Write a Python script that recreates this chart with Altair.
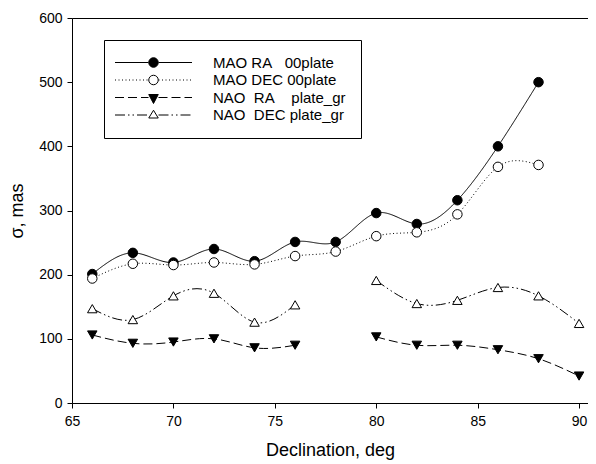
import altair as alt
import pandas as pd

NB = "\u00a0"
# ---- data ----
dec = [66, 68, 70, 72, 74, 76, 78, 80, 82, 84, 86, 88, 90]
mao_ra = [201, 234, 219, 240, 221, 251, 251, 296, 279, 316, 400, 500, None]
mao_dec = [194, 217, 215, 219, 216, 229, 236, 260, 266, 294, 368, 371, None]
nao_ra = [106, 93, 95, 100, 86, 90, None, 103, 90, 90, 83, 69, 42]
nao_dec = [147, 130, 167, 171, 126, 153, None, 191, 155, 160, 180, 167, 124]

series = [
    "MAO" + NB + "RA" + NB * 3 + "00plate",
    "MAO" + NB + "DEC" + NB + "00plate",
    "NAO" + NB * 2 + "RA" + NB * 4 + "plate_gr",
    "NAO" + NB * 2 + "DEC" + NB + "plate_gr",
]
values = [mao_ra, mao_dec, nao_ra, nao_dec]
shapes = ["circle", "circle", "triangle-down", "triangle-up"]
fills = ["black", "white", "black", "white"]
dash_patterns = [[1, 0], [1, 2.5], [9, 4], [10, 3, 1.5, 3, 1.5, 3]]

rows = []
for s, vals, shp, fc in zip(series, values, shapes, fills):
    seg = 0
    for d, v in zip(dec, vals):
        if v is None:
            seg += 1
            continue
        rows.append({"dec": d, "sigma": v, "series": s, "seg": f"{s}-{seg}",
                     "shp": shp, "fillc": fc})
df = pd.DataFrame(rows)

# ---- legend glyphs (line sample + marker), in symbol units (1 unit = 5 px) ----
U = 5.0


def dash_path(pattern, x0, x1):
    if pattern == [1, 0]:
        return f"M{x0/U:.3f},0H{x1/U:.3f}"
    out = []
    x = x0
    i = 0
    while x < x1:
        ln = pattern[i % len(pattern)]
        if i % 2 == 0:
            out.append(f"M{x/U:.3f},0H{min(x+ln, x1)/U:.3f}")
        x += ln
        i += 1
    return "".join(out)


def line_sample(pattern):
    return dash_path(pattern, -38.5, -5.0) + dash_path(pattern, 5.0, 38.5)


r = 0.95
circle = f"M{-r},0A{r},{r} 0 1,1 {r},0A{r},{r} 0 1,1 {-r},0Z"
tri_down = "M-0.95,-0.6L0.95,-0.6L0,1.2Z"
tri_up = "M0,-0.95L0.95,0.6L-0.95,0.6Z"
markers = [circle, circle, tri_down, tri_up]
legend_paths = [line_sample(p) + m for p, m in zip(dash_patterns, markers)]

FONT = "Liberation Sans"

x_scale = alt.Scale(domain=[65, 90.44], nice=False, zero=False)
y_scale = alt.Scale(domain=[0, 600], nice=False)

x_axis = alt.Axis(values=[65, 70, 75, 80, 85, 90], format="d", title="Declination, deg",
                  grid=False, domainColor="black", tickColor="black", tickSize=5,
                  labelFontSize=14, labelColor="black", labelPadding=6, labelFont=FONT,
                  titleFontSize=18, titleFontWeight="normal", titleColor="black",
                  titlePadding=13, titleFont=FONT, labelFlush=False)
y_axis = alt.Axis(values=[0, 100, 200, 300, 400, 500, 600], format="d", title="σ, mas",
                  grid=False, domainColor="black", tickColor="black", tickSize=5,
                  labelFontSize=14, labelColor="black", labelPadding=5, labelFont=FONT,
                  titleFontSize=18, titleFontWeight="normal", titleColor="black",
                  titlePadding=12, titleFont=FONT, labelFlush=False)

base = alt.Chart(df)

lines = base.mark_line(interpolate="natural", color="black", strokeWidth=1).encode(
    x=alt.X("dec:Q", scale=x_scale, axis=x_axis),
    y=alt.Y("sigma:Q", scale=y_scale, axis=y_axis),
    detail="seg:N",
    strokeDash=alt.StrokeDash("series:N", scale=alt.Scale(domain=series, range=dash_patterns),
                              legend=None),
)

points = base.mark_point(filled=True, stroke="black", strokeWidth=1, opacity=1, size=90).encode(
    x=alt.X("dec:Q", scale=x_scale, axis=None),
    y=alt.Y("sigma:Q", scale=y_scale, axis=y_axis),
    shape=alt.Shape("shp:N", scale=None),
    fill=alt.Fill("fillc:N", scale=None),
)

leg = alt.Legend(orient="none", legendX=32, legendY=22, title=None, strokeColor="black",
                 padding=15, fillColor="white", labelFont=FONT,
                 labelFontSize=15, labelColor="black", symbolSize=100, symbolOffset=27,
                 labelOffset=52, rowPadding=1.5, symbolStrokeColor="black",
                 symbolStrokeWidth=1, cornerRadius=0)

legend_layer = base.transform_filter("false").mark_point(
    filled=False, strokeWidth=1, opacity=1).encode(
    x=alt.X("dec:Q", scale=x_scale,
            axis=alt.Axis(orient="top", labels=False, ticks=False, title=None, grid=False,
                          domainColor="black")),
    y=alt.Y("sigma:Q", scale=y_scale, axis=y_axis),
    shape=alt.Shape("series:N", scale=alt.Scale(domain=series, range=legend_paths), legend=leg),
    fill=alt.Fill("series:N", scale=alt.Scale(domain=series, range=fills), legend=leg),
    stroke=alt.Stroke("series:N", scale=alt.Scale(domain=series, range=["black"] * 4),
                      legend=leg),
)

chart = alt.layer(lines, points, legend_layer).resolve_axis(x="independent").resolve_scale(
    shape="independent", fill="independent", stroke="independent"
).properties(
    width=516, height=385,
    autosize=alt.AutoSizeParams(type="none"),
    padding={"left": 64, "top": 10, "right": 0, "bottom": 60},
).configure_view(stroke=None).configure(font=FONT, background="white")

chart.save("out.html", embed_options={"renderer": "svg", "actions": False})
